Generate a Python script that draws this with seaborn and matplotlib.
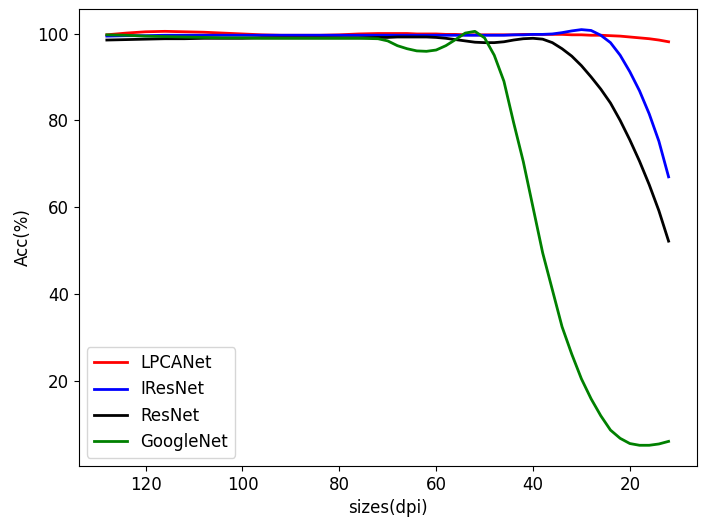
import matplotlib
matplotlib.use("Agg")
import matplotlib.pyplot as plt
import seaborn as sns
import pandas as pd

# sizes (dpi)
sizes = [128, 124, 120, 116, 112, 108, 104, 100, 96, 92, 88, 84, 80, 76, 72,
         70, 68, 66, 64, 62, 60, 58, 56, 54, 52, 50, 48, 46, 44, 42, 40,
         38, 36, 34, 32, 30, 28, 26, 24, 22, 20, 18, 16, 14, 12]

lpcanet = [99.7, 100.1, 100.4, 100.5, 100.4, 100.3, 100.1, 99.9, 99.7, 99.6, 99.6, 99.6, 99.7, 99.9, 100.0,
           100.0, 100.0, 100.0, 99.9, 99.9, 99.9, 99.8, 99.8, 99.7, 99.7, 99.7, 99.7, 99.7, 99.7, 99.8, 99.8,
           99.8, 99.8, 99.8, 99.7, 99.7, 99.6, 99.6, 99.5, 99.4, 99.2, 99.0, 98.8, 98.5, 98.1]

iresnet = [99.4, 99.5, 99.5, 99.6, 99.6, 99.6, 99.6, 99.6, 99.6, 99.6, 99.6, 99.6, 99.6, 99.6, 99.6,
           99.6, 99.6, 99.6, 99.6, 99.6, 99.6, 99.6, 99.6, 99.6, 99.6, 99.6, 99.6, 99.6, 99.7, 99.7, 99.8,
           99.8, 99.9, 100.2, 100.6, 100.9, 100.7, 99.6, 97.9, 95.0, 91.2, 86.8, 81.5, 75.2, 67.0]

resnet = [98.5, 98.6, 98.7, 98.8, 98.8, 98.9, 98.9, 98.9, 99.0, 99.0, 99.0, 99.0, 99.0, 99.0, 99.1,
          99.1, 99.2, 99.2, 99.2, 99.2, 99.1, 98.9, 98.6, 98.3, 98.0, 97.9, 97.9, 98.1, 98.5, 98.8, 98.9,
          98.7, 97.9, 96.5, 94.8, 92.6, 90.0, 87.2, 84.0, 80.0, 75.5, 70.6, 65.2, 59.2, 52.2]

googlenet = [99.7, 99.6, 99.4, 99.3, 99.2, 99.1, 99.0, 99.0, 98.9, 98.9, 98.9, 98.9, 98.9, 98.9, 98.8,
             98.3, 97.2, 96.5, 96.0, 95.9, 96.2, 97.2, 98.6, 100.1, 100.5, 99.0, 95.0, 89.0, 79.5, 70.5, 60.0,
             49.5, 41.0, 32.5, 26.2, 20.5, 15.9, 12.0, 8.7, 6.8, 5.6, 5.2, 5.2, 5.5, 6.1]

models = ["LPCANet", "IResNet", "ResNet", "GoogleNet"]
colors = ["red", "blue", "black", "green"]

df = pd.concat([
    pd.DataFrame({"size": sizes, "acc": vals, "model": name})
    for name, vals in zip(models, [lpcanet, iresnet, resnet, googlenet])
])

plt.rcParams["font.size"] = 12
fig, ax = plt.subplots(figsize=(7.16, 5.19), dpi=100)
fig.subplots_adjust(left=0.110, right=0.973, top=0.983, bottom=0.102)

sns.lineplot(data=df, x="size", y="acc", hue="model", palette=colors,
             linewidth=2, errorbar=None, ax=ax)
ax.invert_xaxis()
ax.set_xlabel("sizes(dpi)")
ax.set_ylabel("Acc(%)")
ax.set_yticks([20, 40, 60, 80, 100])
sns.move_legend(ax, "lower left", title=None, fontsize=12)

plt.savefig("out.png")
